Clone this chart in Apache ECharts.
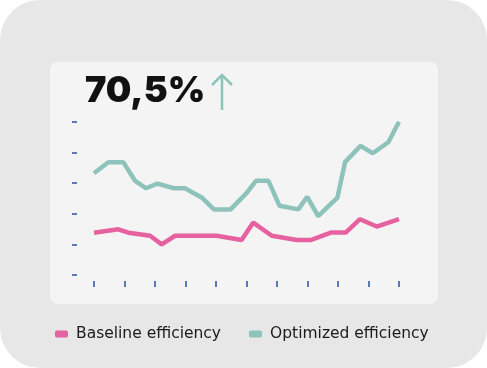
<!DOCTYPE html>
<html><head><meta charset="utf-8">
<script src="https://cdn.jsdelivr.net/npm/echarts@6/dist/echarts.min.js"></script>
<style>html,body{margin:0;padding:0;background:#fff}#c{width:487px;height:368px}</style>
</head><body><div id="c"></div>
<script>
const seriesNames = ['Baseline efficiency', 'Optimized efficiency'];
const headline = '70,5%';
const xTicks = [0,1,2,3,4,5,6,7,8,9,10];
const yTicks = [0,1,2,3,4,5];
const baseline = [[0,1.38],[0.8,1.49],[1.13,1.38],[1.84,1.28],[2.22,1.0],[2.66,1.28],[4.02,1.28],[4.84,1.14],[5.22,1.71],[5.83,1.28],[6.65,1.14],[7.1,1.14],[7.79,1.39],[8.26,1.39],[8.72,1.82],[9.27,1.58],[10,1.82]];
const optimized = [[0,3.32],[0.47,3.68],[0.96,3.68],[1.34,3.08],[1.7,2.83],[2.08,2.98],[2.62,2.83],[2.98,2.83],[3.53,2.53],[3.93,2.14],[4.48,2.14],[5.0,2.67],[5.31,3.07],[5.72,3.07],[6.08,2.26],[6.7,2.14],[6.99,2.55],[7.35,1.92],[7.98,2.52],[8.23,3.68],[8.74,4.21],[9.14,3.97],[9.65,4.33],[10,5.0]];
const colors = ['#e561a0', '#8dc3bb'];

const chart = echarts.init(document.getElementById('c'), null, {renderer:'canvas'});
chart.setOption({
  animation:false,
  backgroundColor:'#ffffff',
  graphic:[
    {type:'rect', shape:{x:0,y:0,width:487,height:368,r:40}, style:{fill:'#e7e7e7'}, z:-10},
    {type:'rect', shape:{x:50,y:62,width:388,height:242,r:8}, style:{fill:'#f4f4f4'}, z:-9},
    {type:'text', left:85, top:73, style:{text:headline, font:'900 36px Inter', fill:'#111111'}},
    {type:'polyline', shape:{points:[[222,110],[222,75]]}, style:{stroke:colors[1], lineWidth:2.5, fill:null}},
    {type:'polyline', shape:{points:[[212,85],[222,75],[232,85]]}, style:{stroke:colors[1], lineWidth:2.5, fill:null}}
  ],
  color:colors,
  legend:{
    bottom:26, left:55, padding:0, itemGap:28, itemWidth:13, itemHeight:7, icon:'roundRect',
    textStyle:{fontSize:15.5, color:'#1a1a1a', fontFamily:'DejaVu Sans', padding:[0,0,0,3]},
    data:seriesNames
  },
  grid:{left:77, right:88, top:121.7, bottom:87, containLabel:false},
  xAxis:{type:'value', min:-0.5574, max:10,
    axisLine:{show:false, onZero:false}, axisTick:{show:true, length:6, customValues:xTicks, lineStyle:{color:'#2a4f9a', width:1.5}},
    axisLabel:{show:false}, splitLine:{show:false}},
  yAxis:{type:'value', min:-0.1957, max:5,
    axisLine:{show:false, onZero:false}, axisTick:{show:true, length:5, customValues:yTicks, lineStyle:{color:'#2a4f9a', width:1.5}},
    axisLabel:{show:false}, splitLine:{show:false}},
  series:[
    {name:seriesNames[0], type:'line', data:baseline, showSymbol:false, lineStyle:{width:4.5, color:colors[0]}, itemStyle:{color:colors[0]}},
    {name:seriesNames[1], type:'line', data:optimized, showSymbol:false, lineStyle:{width:4.5, color:colors[1]}, itemStyle:{color:colors[1]}}
  ]
});
</script></body></html>
